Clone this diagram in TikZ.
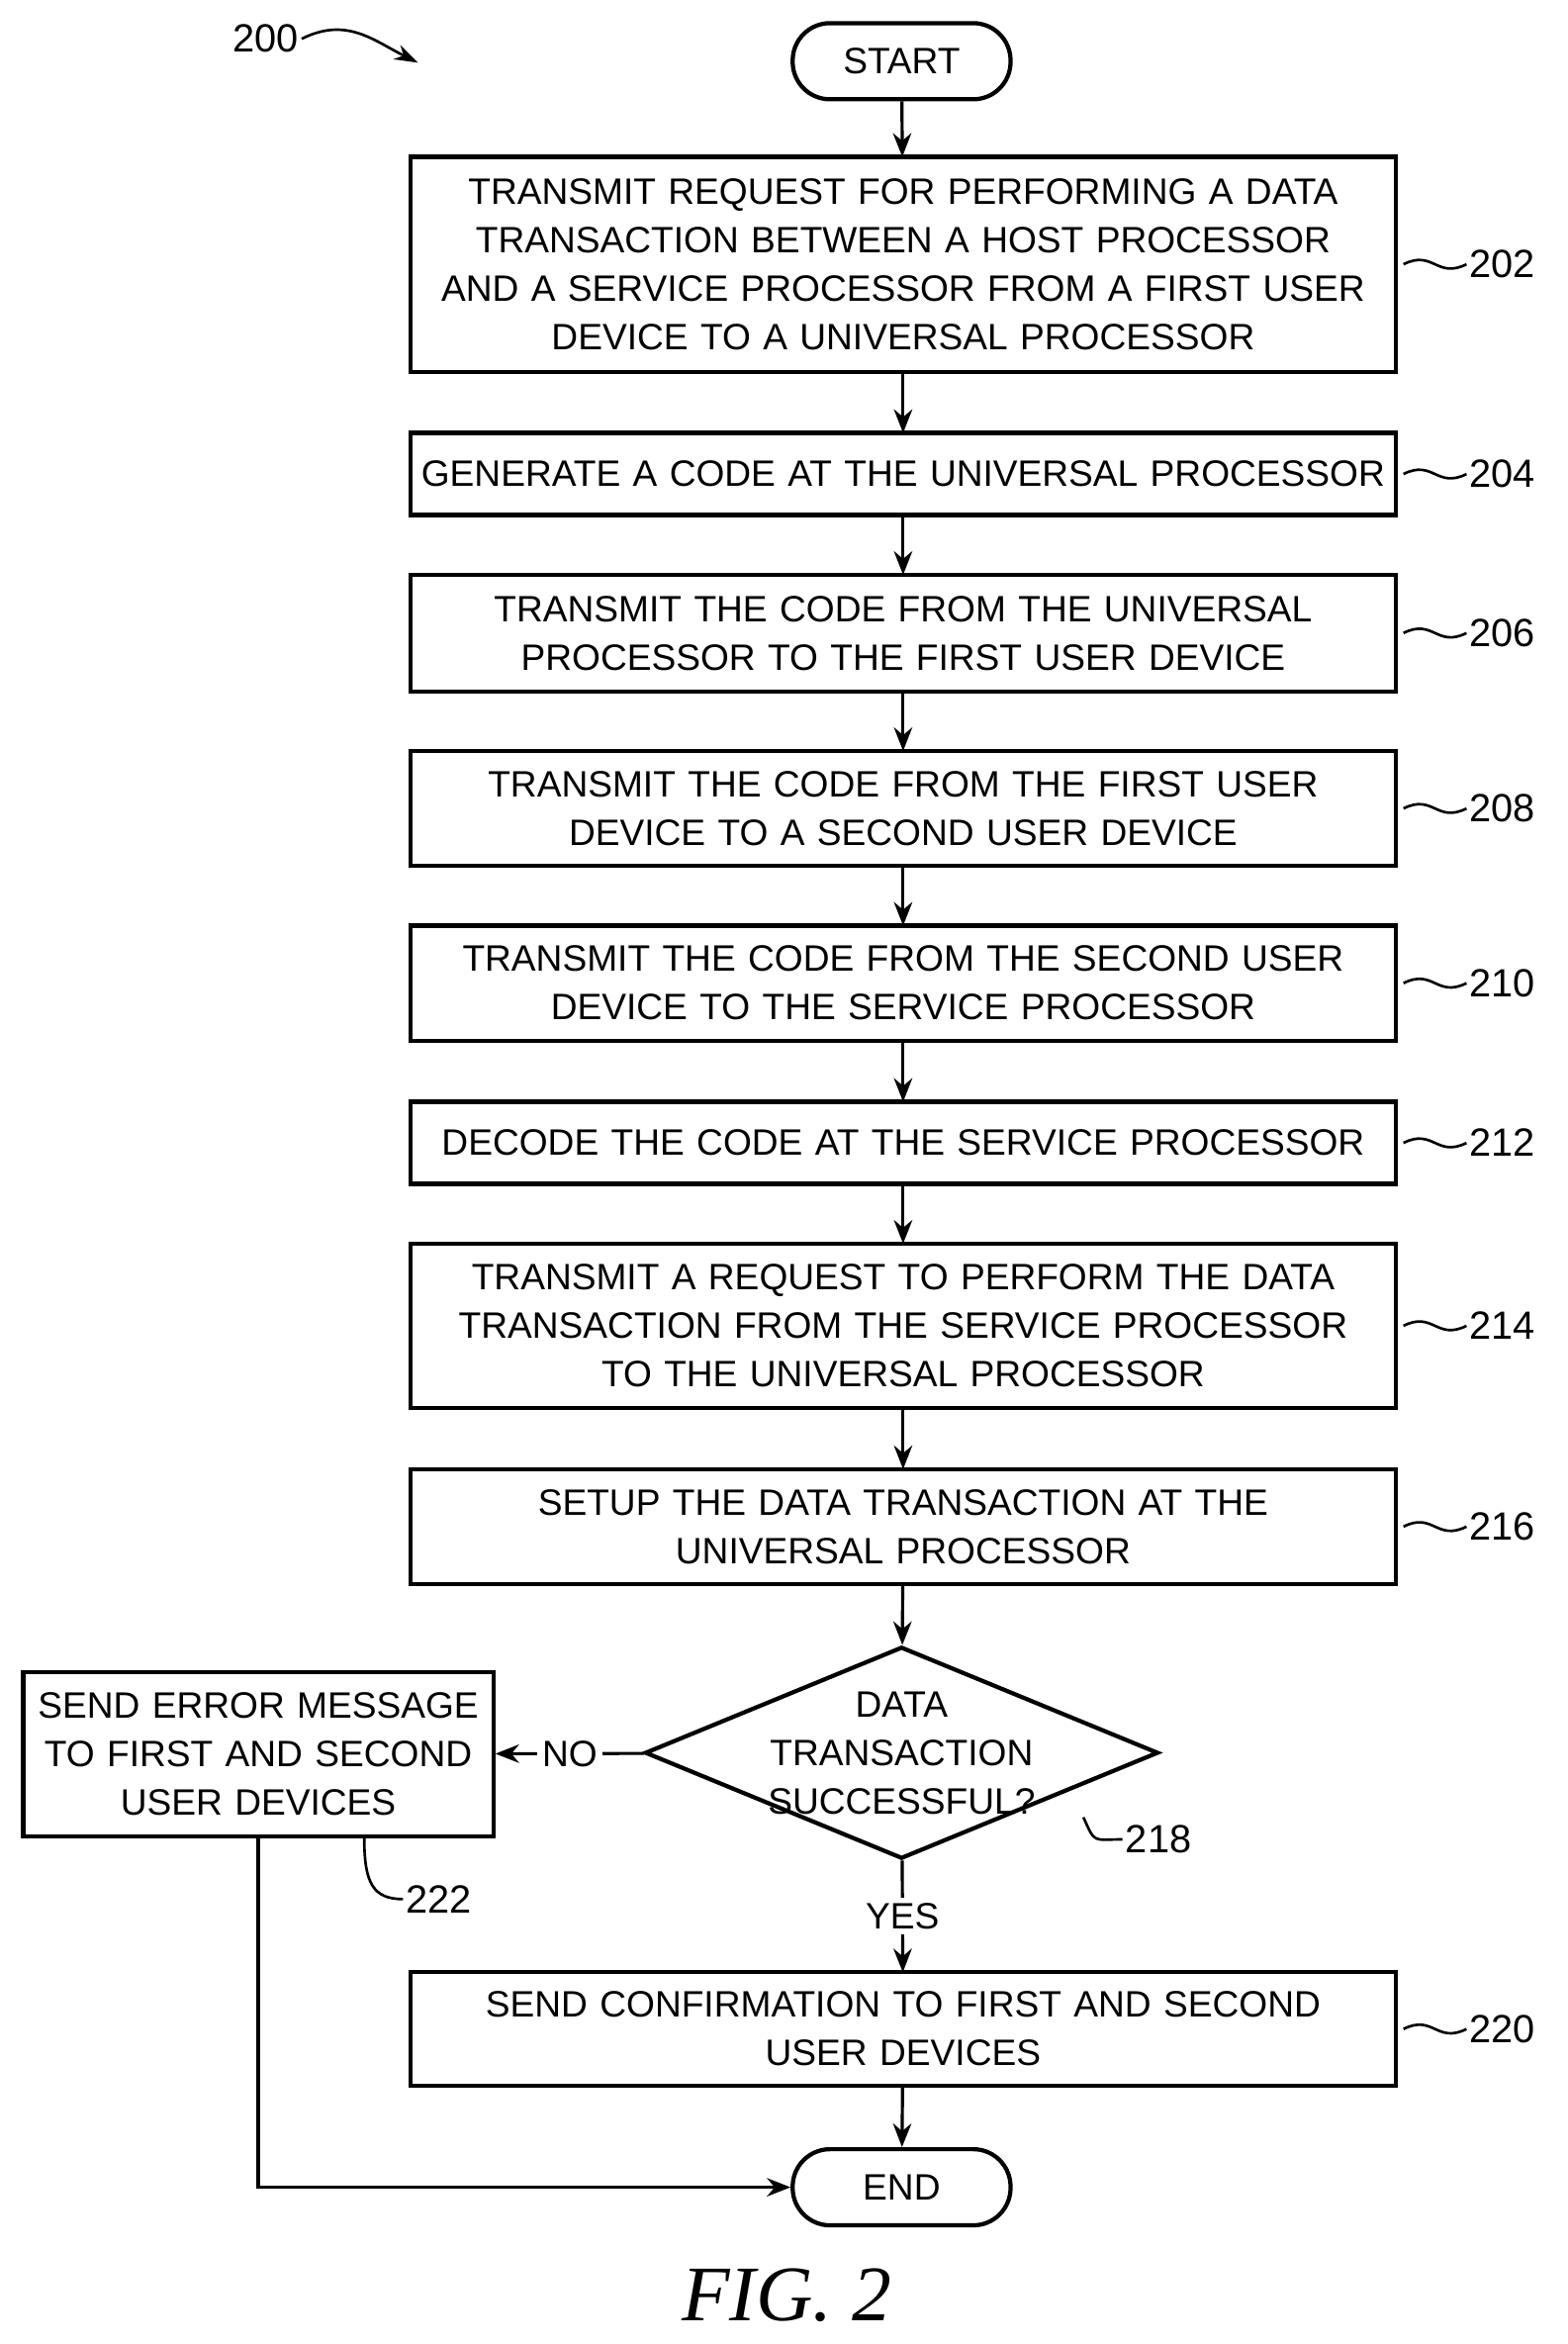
\documentclass[tikz,border=0pt]{standalone}
\usepackage{fontspec}
\setmainfont{Liberation Sans}
\newfontfamily\figfont{Liberation Serif}
\usetikzlibrary{shapes.geometric,arrows.meta}
\begin{document}
\begin{tikzpicture}[
    x=0.02cm, y=-0.02cm,
    font=\fontsize{14}{18.5}\selectfont,
    % Stile
    proc/.style={draw=black, line width=1.6pt, text width=13.2cm, align=center, inner sep=0pt, outer sep=0pt},
    term/.style={draw=black, line width=1.6pt, rounded corners=0.5cm, minimum width=2.92cm, minimum height=1.02cm},
    flow/.style={line width=1.2pt, -{Stealth[length=9pt,width=7pt]}},
    squig/.style={line width=1pt},
    num/.style={anchor=west, inner sep=1pt, font=\fontsize{15}{18}\selectfont}
]
    \useasboundingbox (0,0) rectangle (1050,1570);

    % Terminale
    \node[term] (start) at (604,41) {START};
    \node[term] (end) at (604,1465) {END};

    % Schritte
    \node[proc, minimum height=2.88cm] (b202) at (605,177) {TRANSMIT REQUEST FOR PERFORMING A DATA\\TRANSACTION BETWEEN A HOST PROCESSOR\\AND A SERVICE PROCESSOR FROM A FIRST USER\\DEVICE TO A UNIVERSAL PROCESSOR};
    \node[proc, minimum height=1.1cm] (b204) at (605,317.5) {GENERATE A CODE AT THE UNIVERSAL PROCESSOR};
    \node[proc, minimum height=1.56cm] (b206) at (605,424) {TRANSMIT THE CODE FROM THE UNIVERSAL\\PROCESSOR TO THE FIRST USER DEVICE};
    \node[proc, minimum height=1.54cm] (b208) at (605,541.5) {TRANSMIT THE CODE FROM THE FIRST USER\\DEVICE TO A SECOND USER DEVICE};
    \node[proc, minimum height=1.54cm] (b210) at (605,658.5) {TRANSMIT THE CODE FROM THE SECOND USER\\DEVICE TO THE SERVICE PROCESSOR};
    \node[proc, minimum height=1.1cm] (b212) at (605,765.5) {DECODE THE CODE AT THE SERVICE PROCESSOR};
    \node[proc, minimum height=2.2cm] (b214) at (605,888) {TRANSMIT A REQUEST TO PERFORM THE DATA\\TRANSACTION FROM THE SERVICE PROCESSOR\\TO THE UNIVERSAL PROCESSOR};
    \node[proc, minimum height=1.54cm] (b216) at (605,1022.5) {SETUP THE DATA TRANSACTION AT THE\\UNIVERSAL PROCESSOR};
    \node[proc, minimum height=1.52cm] (b220) at (605,1359) {SEND CONFIRMATION TO FIRST AND SECOND\\USER DEVICES};
    \node[draw=black, line width=1.6pt, text width=6.3cm, minimum height=2.2cm, align=center, inner sep=0pt] (b222) at (173,1175) {SEND ERROR MESSAGE\\TO FIRST AND SECOND\\USER DEVICES};

    % Entscheidung
    \node[diamond, draw=black, line width=1.6pt, minimum width=6.88cm, minimum height=2.84cm, inner sep=0pt] (d218) at (604,1174) {};
    \node[align=center] (t218) at (d218) {DATA\\TRANSACTION\\SUCCESSFUL?};

    % Verbindungen
    \draw[flow] (start) -- (b202);
    \draw[flow] (b202) -- (b204);
    \draw[flow] (b204) -- (b206);
    \draw[flow] (b206) -- (b208);
    \draw[flow] (b208) -- (b210);
    \draw[flow] (b210) -- (b212);
    \draw[flow] (b212) -- (b214);
    \draw[flow] (b214) -- (b216);
    \draw[flow] (b216) -- (d218);
    \draw[flow] (d218) -- node[fill=white, inner sep=2pt] {YES} (b220);
    \draw[flow] (d218) -- node[fill=white, inner sep=2pt] {NO} (b222);
    \draw[flow] (b220) -- (end);
    \draw[flow] (b222) |- (end);

    % Bezugszeichen
    \foreach \n in {202,204,206,208,210,212,214,216,220}{
        \node[num] (l\n) at ([xshift=0.95cm]b\n.east) {\n};
        \draw[squig] ([xshift=3pt]b\n.east) .. controls +(20,-10) and +(-20,10) .. (l\n.west);
    }
    \node[num] (l218) at (752,1232) {218};
    \draw[squig] ([xshift=20pt,yshift=-4pt]d218.south east) .. controls +(8,18) and +(-20,0) .. (l218.west);
    \node[num] (l222) at (270,1272) {222};
    \draw[squig] ([xshift=-50pt]b222.south east) .. controls +(0,30) and +(-20,0) .. (l222.west);
    \node[num, anchor=center] (l200) at (178,26) {200};
    \draw[squig, -{Stealth[length=9pt,width=6pt]}] (l200.east) .. controls +(30,-15) and +(-30,-15) .. (280,42);

    % Titel
    \node[font=\fontsize{30}{34}\selectfont\itshape\figfont] (fig) at (527,1537) {FIG. 2};
\end{tikzpicture}
\end{document}
